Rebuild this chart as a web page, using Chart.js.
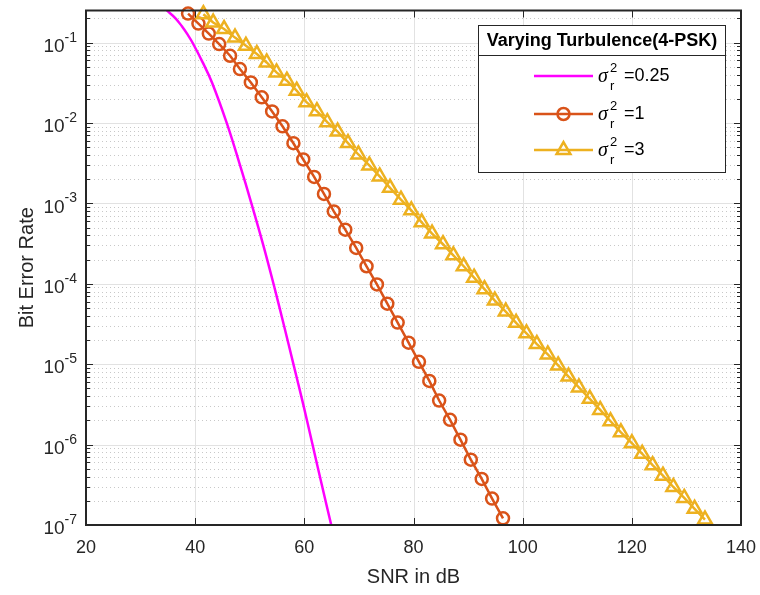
<!DOCTYPE html>
<html>
<head>
<meta charset="utf-8">
<script src="https://cdn.jsdelivr.net/npm/chart.js@4.4.1/dist/chart.umd.min.js"></script>
<style>
  html, body { margin: 0; padding: 0; background: #fff; }
  #wrap { width: 760px; height: 595px; }
</style>
</head>
<body>
<div id="wrap"><canvas id="myChart" width="760" height="595"></canvas></div>
<script>
// data
const snrLow = [34.8, 36.4, 37.6, 38.6, 39.5, 41.4, 43.1, 45.78, 48.1, 50.3, 52.4, 54.35, 56.2, 58.0, 59.8, 61.5, 63.2, 64.93];
const berLow = [0.251, 0.2, 0.158, 0.126, 0.1, 0.0562, 0.0316, 0.01, 0.00316, 1.0e-3, 3.16e-4, 1.0e-4, 3.16e-5, 1.0e-5,
    3.16e-6, 1.0e-6, 3.16e-7, 1.0e-7];

const snrMid = [38.7, 40.6, 42.5, 44.4, 46.4, 48.2, 50.2, 52.2, 54.1, 56.0, 58.0, 59.8, 61.8, 63.6, 65.4, 67.5,
    69.5, 71.4, 73.3, 75.2, 77.1, 79.1, 81.0, 82.9, 84.7, 86.7, 88.6, 90.5, 92.5, 94.4, 96.4];
const berMid = [0.229, 0.172, 0.129, 0.0955, 0.0684, 0.0468, 0.0319, 0.0208, 0.0139, 0.00908, 0.00559, 0.00351,
    0.00213, 0.00131, 7.94e-4, 4.71e-4, 2.79e-4, 1.65e-4, 9.8e-5, 5.66e-5, 3.29e-5, 1.85e-5, 1.07e-5, 6.19e-6,
    3.53e-6, 2.03e-6, 1.15e-6, 6.49e-7, 3.74e-7, 2.13e-7, 1.21e-7];

const snrHigh = [41.5, 43.3, 45.3, 47.3, 49.3, 51.3, 53.1, 54.9, 56.8, 58.6, 60.4, 62.3, 64.2, 66.1, 68.0, 69.9,
    71.9, 73.8, 75.7, 77.7, 79.6, 81.5, 83.4, 85.4, 87.3, 89.2, 91.1, 93.0, 94.9, 96.9, 98.8, 100.7, 102.6, 104.6,
    106.5, 108.4, 110.3, 112.3, 114.2, 116.1, 118.0, 120.0, 121.9, 123.8, 125.7, 127.6, 129.6, 131.5, 133.4];
const berHigh = [0.225, 0.177, 0.147, 0.115, 0.091, 0.0718, 0.0565, 0.0425, 0.0335, 0.0252, 0.0181, 0.014, 0.0102,
    0.0078, 0.00562, 0.00405, 0.00296, 0.00216, 0.00156, 0.00111, 8.18e-4, 5.81e-4, 4.21e-4, 3.10e-4, 2.26e-4,
    1.65e-4, 1.19e-4, 8.57e-5, 6.17e-5, 4.51e-5, 3.27e-5, 2.42e-5, 1.78e-5, 1.32e-5, 9.64e-6, 7.0e-6, 5.14e-6,
    3.71e-6, 2.70e-6, 1.95e-6, 1.42e-6, 1.04e-6, 7.69e-7, 5.54e-7, 4.11e-7, 2.97e-7, 2.17e-7, 1.59e-7, 1.17e-7];

const sigmaValues = ['0.25', '1', '3'];
const legendTitle = 'Varying Turbulence(4-PSK)';
const xTicks = [20, 40, 60, 80, 100, 120, 140];
const yExponents = [-7, -6, -5, -4, -3, -2, -1];
const yMin = 1e-7, yMax = 0.25;

const colors = ['#ff00ff', '#d95319', '#edb120'];
const FONT = '"Liberation Sans", Arial, sans-serif';

function pairs(xs, ys) {
    return xs.map((v, i) => ({x: v, y: ys[i]}));
}

function hline(ctx, x1, x2, y) {
    ctx.beginPath(); ctx.moveTo(x1, y); ctx.lineTo(x2, y); ctx.stroke();
}
function vline(ctx, x, y1, y2) {
    ctx.beginPath(); ctx.moveTo(x, y1); ctx.lineTo(x, y2); ctx.stroke();
}

// grid, box, ticks, labels and legend in MATLAB style
const matlabAxes = {
    id: 'matlabAxes',
    beforeDatasetsDraw(chart) {
        const {ctx, chartArea: a, scales: {x, y}} = chart;
        ctx.save();
        // minor y grid (dotted)
        ctx.strokeStyle = '#c8c8c8';
        ctx.lineWidth = 1;
        ctx.setLineDash([1, 3]);
        for (const e of yExponents) {
            for (let m = 2; m <= 9; m++) {
                const v = m * Math.pow(10, e);
                if (v > yMax) continue;
                hline(ctx, a.left, a.right, Math.round(y.getPixelForValue(v)) + 0.5);
            }
        }
        // major grid
        ctx.setLineDash([]);
        ctx.strokeStyle = '#e2e2e2';
        for (const e of yExponents) {
            const py = Math.round(y.getPixelForValue(Math.pow(10, e))) + 0.5;
            if (py > a.bottom - 1) continue;
            hline(ctx, a.left, a.right, py);
        }
        for (const t of xTicks) {
            const px = Math.round(x.getPixelForValue(t)) + 0.5;
            if (px < a.left + 1 || px > a.right - 1) continue;
            vline(ctx, px, a.top, a.bottom);
        }
        ctx.restore();
    },
    afterDatasetsDraw(chart) {
        const {ctx, chartArea: a, scales: {x, y}} = chart;
        ctx.save();
        ctx.strokeStyle = '#262626';
        ctx.lineWidth = 1;
        // ticks
        for (const t of xTicks) {
            const px = Math.round(x.getPixelForValue(t)) + 0.5;
            vline(ctx, px, a.bottom, a.bottom - 7);
            vline(ctx, px, a.top, a.top + 7);
        }
        for (const e of yExponents) {
            for (let m = 1; m <= 9; m++) {
                const v = m * Math.pow(10, e);
                if (v > yMax) continue;
                const py = Math.round(y.getPixelForValue(v)) + 0.5;
                const len = m === 1 ? 7 : 4;
                hline(ctx, a.left, a.left + len, py);
                hline(ctx, a.right, a.right - len, py);
            }
        }
        // box
        ctx.lineWidth = 2;
        ctx.strokeRect(a.left, a.top, a.right - a.left, a.bottom - a.top);

        // tick labels
        ctx.fillStyle = '#262626';
        ctx.font = '18px ' + FONT;
        ctx.textAlign = 'center';
        ctx.textBaseline = 'middle';
        for (const t of xTicks) {
            ctx.fillText(String(t), x.getPixelForValue(t), 548);
        }
        for (const e of yExponents) {
            const py = y.getPixelForValue(Math.pow(10, e));
            const ex = String(e);
            ctx.font = '14px ' + FONT;
            const w = ctx.measureText(ex).width;
            ctx.textAlign = 'right';
            ctx.textBaseline = 'alphabetic';
            ctx.fillText(ex, 77, py - 1);
            ctx.font = '19px ' + FONT;
            ctx.textBaseline = 'middle';
            ctx.fillText('10', 77 - w, py + 4);
        }

        // axis titles
        ctx.font = '20px ' + FONT;
        ctx.textAlign = 'center';
        ctx.textBaseline = 'middle';
        ctx.fillText('SNR in dB', (a.left + a.right) / 2, 577);
        ctx.save();
        ctx.translate(27, (a.top + a.bottom) / 2);
        ctx.rotate(-Math.PI / 2);
        ctx.fillText('Bit Error Rate', 0, 0);
        ctx.restore();

        // legend
        const L = 478.5, R = 725.5, T = 25.5, B = 172.5, sep = 55.5;
        ctx.fillStyle = '#fff';
        ctx.fillRect(L, T, R - L, B - T);
        ctx.strokeStyle = '#262626';
        ctx.lineWidth = 1;
        ctx.strokeRect(L, T, R - L, B - T);
        hline(ctx, L, R, sep);
        ctx.fillStyle = '#000';
        ctx.font = 'bold 18px ' + FONT;
        ctx.textAlign = 'center';
        ctx.fillText(legendTitle, (L + R) / 2, 41);

        const rows = [76, 114, 150];
        chart.data.datasets.forEach((ds, i) => {
            const ry = rows[i];
            ctx.strokeStyle = ds.borderColor;
            ctx.lineWidth = ds.borderWidth;
            hline(ctx, 534, 593, ry);
            if (ds.pointRadius > 0) {
                ctx.fillStyle = 'rgba(0,0,0,0)';
                ctx.lineWidth = ds.pointBorderWidth;
                Chart.helpers.drawPoint(ctx, {
                    pointStyle: ds.pointStyle, radius: ds.pointRadius, borderWidth: ds.pointBorderWidth, rotation: 0
                }, 563.5, ry);
            }
            ctx.fillStyle = '#000';
            ctx.textAlign = 'left';
            ctx.textBaseline = 'middle';
            ctx.font = 'italic 20px "Liberation Serif", serif';
            ctx.fillText('\u03c3', 598, ry + 1);
            ctx.font = '13px ' + FONT;
            ctx.fillText('2', 610, ry - 8);
            ctx.fillText('r', 610, ry + 10);
            ctx.font = '18px ' + FONT;
            ctx.fillText('=' + sigmaValues[i], 624, ry);
        });
        ctx.restore();
    }
};

const ctx = document.getElementById('myChart');
const chart = new Chart(ctx, {
    type: 'line',
    data: {
        datasets: [{
            label: 'sigma_r^2 = ' + sigmaValues[0],
            data: pairs(snrLow, berLow),
            borderColor: colors[0],
            borderWidth: 2.5,
            pointRadius: 0,
            tension: 0.4,
            order: 3
        }, {
            label: 'sigma_r^2 = ' + sigmaValues[1],
            data: pairs(snrMid, berMid),
            borderColor: colors[1],
            borderWidth: 2.5,
            pointStyle: 'circle',
            pointRadius: 6,
            pointBorderWidth: 2.5,
            pointBorderColor: colors[1],
            pointBackgroundColor: 'rgba(0,0,0,0)',
            clip: 8,
            order: 2
        }, {
            label: 'sigma_r^2 = ' + sigmaValues[2],
            data: pairs(snrHigh, berHigh),
            borderColor: colors[2],
            borderWidth: 2.5,
            pointStyle: 'triangle',
            pointRadius: 8,
            pointBorderWidth: 2.5,
            pointBorderColor: colors[2],
            pointBackgroundColor: 'rgba(0,0,0,0)',
            clip: 9,
            order: 1
        }]
    },
    options: {
        responsive: false,
        animation: false,
        devicePixelRatio: 1,
        layout: {
            padding: {left: 86, right: 19, top: 9, bottom: 70}
        },
        scales: {
            x: {type: 'linear', min: 20, max: 140, display: false},
            y: {type: 'logarithmic', min: yMin, max: yMax, display: false}
        },
        plugins: {
            legend: {display: false},
            tooltip: {enabled: false}
        }
    },
    plugins: [matlabAxes]
});
</script>
</body>
</html>
